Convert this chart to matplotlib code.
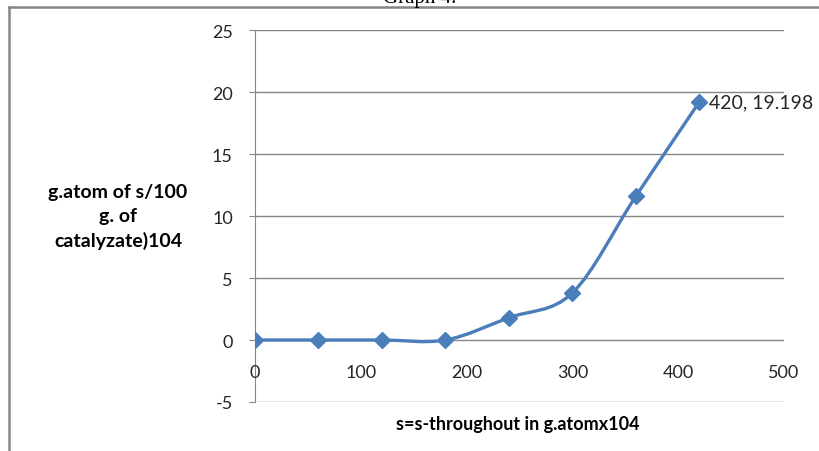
import matplotlib.pyplot as plt
from matplotlib.path import Path
from matplotlib.patches import PathPatch
from matplotlib.lines import Line2D

# datos
x_vals = [0, 60, 120, 180, 240, 300, 360, 420]
y_vals = [0, 0, 0, 0, 1.8, 3.8, 11.6, 19.198]
x_ticks = [0, 100, 200, 300, 400, 500]
y_ticks = [-5, 0, 5, 10, 15, 20, 25]

azul = '#4A7EBB'
gris = '#868686'
plt.rcParams['font.family'] = ['Lato', 'DejaVu Sans']
plt.rcParams['axes.unicode_minus'] = False

fig = plt.figure(figsize=(8.19, 4.52), dpi=100)
ax = fig.add_axes([255 / 819, 1 - 403 / 452, 529 / 819, 372 / 452])

# curva suavizada tipo Excel (Bezier con tangentes de Catmull-Rom)
pts = list(zip(x_vals, y_vals))
verts = [pts[0]]
codes = [Path.MOVETO]
for i in range(len(pts) - 1):
    p0 = pts[i - 1] if i > 0 else pts[i]
    p1 = pts[i]
    p2 = pts[i + 1]
    p3 = pts[i + 2] if i + 2 < len(pts) else pts[i + 1]
    c1 = (p1[0] + (p2[0] - p0[0]) / 6, p1[1] + (p2[1] - p0[1]) / 6)
    c2 = (p2[0] - (p3[0] - p1[0]) / 6, p2[1] - (p3[1] - p1[1]) / 6)
    verts += [c1, c2, p2]
    codes += [Path.CURVE4] * 3
ax.add_patch(PathPatch(Path(verts, codes), fill=False, edgecolor=azul,
                       linewidth=2.4, zorder=3))
ax.plot(x_vals, y_vals, linestyle='none', marker='D', markersize=8,
        color=azul, zorder=4)

ax.annotate('%d, %.3f' % (x_vals[-1], y_vals[-1]), (x_vals[-1], y_vals[-1]),
            xytext=(7, 0), textcoords='offset points', va='center',
            fontsize=14, color='#262626')

ax.set_xlim(0, 500)
ax.set_ylim(-5, 25)
ax.set_xticks(x_ticks)
ax.set_yticks(y_ticks)
ax.yaxis.grid(True, color=gris, linewidth=1)
ax.set_axisbelow(True)
for lado in ['top', 'right', 'bottom']:
    ax.spines[lado].set_visible(False)
ax.spines['left'].set_color(gris)
ax.tick_params(axis='y', length=4, color=gris, pad=12, labelsize=13,
               labelcolor='#262626')
ax.tick_params(axis='x', length=0, pad=0, labelsize=13, labelcolor='#262626')
ax.xaxis.set_ticks_position('top')
ax.xaxis.set_label_position('bottom')
for lbl in ax.get_xticklabels():
    lbl.set_visible(False)
for xv in x_ticks:
    ax.text(xv, -1.9, str(xv), ha='center', va='top', fontsize=13,
            color='#262626')

fig.text(518 / 819, 1 - 425 / 452, 's=s-throughout in g.atomx104',
         ha='center', va='center', fontsize=13, fontweight='bold')
fig.text(118 / 819, 1 - 217 / 452, 'g.atom of s/100\ng. of\ncatalyzate)104',
         ha='center', va='center', fontsize=14, fontweight='bold',
         linespacing=1.45)

# titulo cortado arriba y marco del area del grafico
fig.text(420 / 819, 1 - 3 / 452, 'Graph 4.', ha='center', va='baseline',
         fontsize=15, family='Liberation Serif')
fig.add_artist(Line2D([9 / 819, 9 / 819], [0, 1 - 8 / 452], color=gris,
                      linewidth=1.8))
fig.add_artist(Line2D([9 / 819, 1], [1 - 8 / 452, 1 - 8 / 452], color=gris,
                      linewidth=1.8))

fig.savefig('out.png', dpi=100)
